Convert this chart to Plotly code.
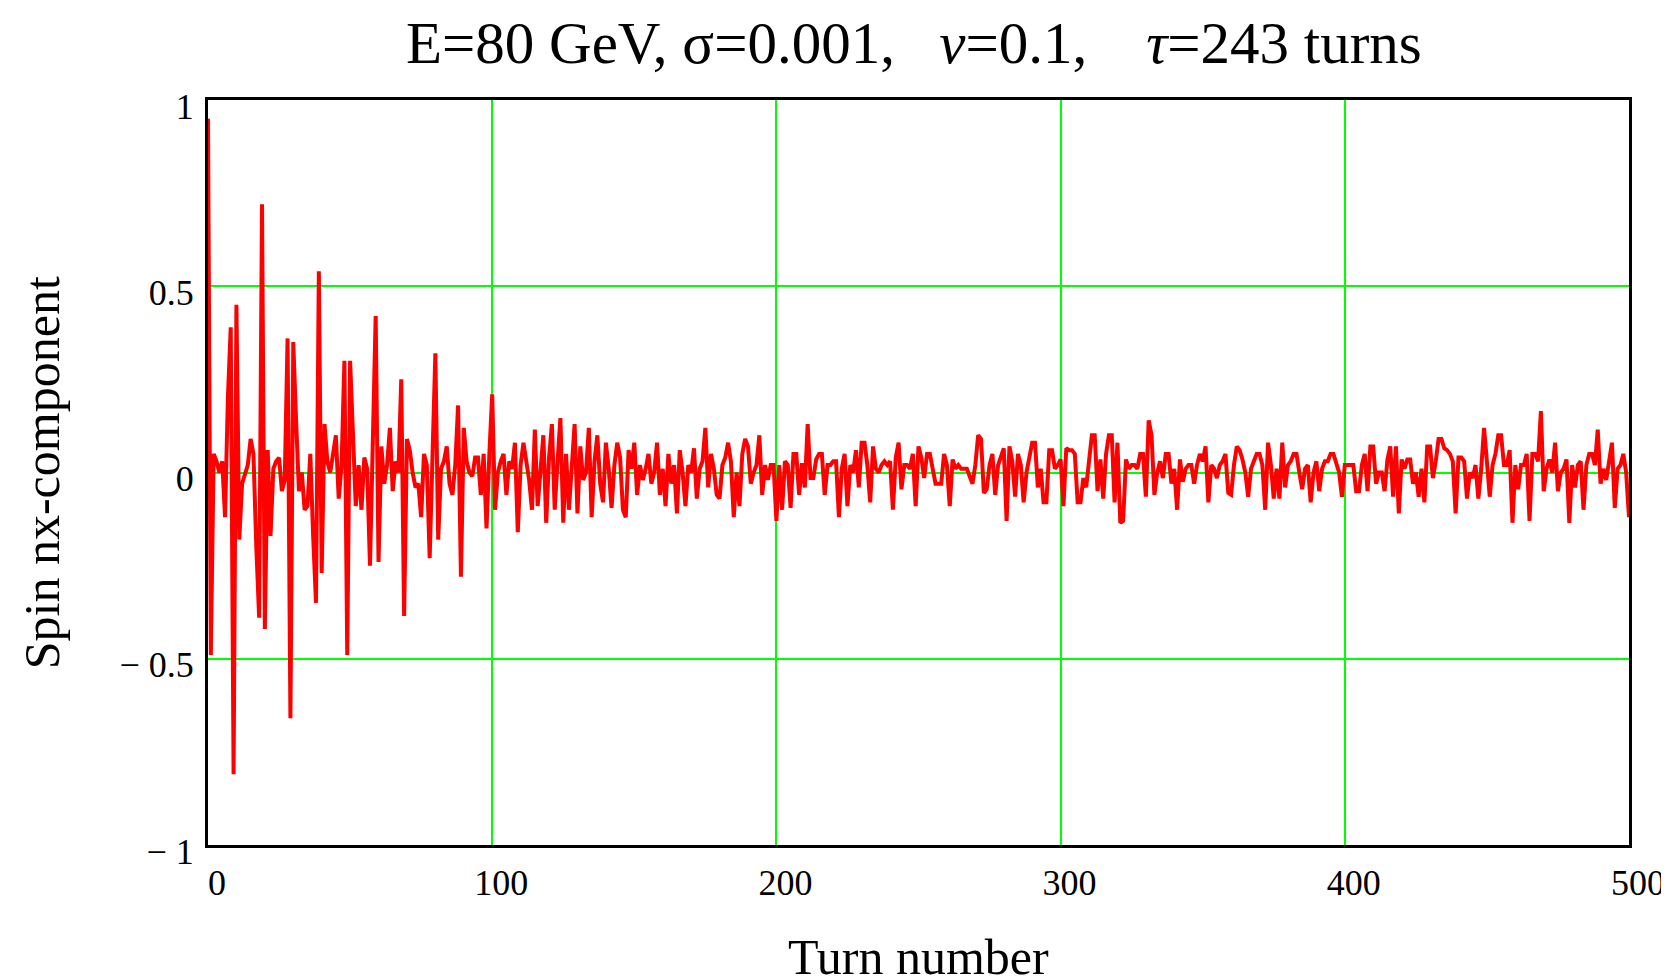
import plotly.graph_objects as go

# Spin nx-component per turn, turns 0..500
nx_000_099 = [
    0.95, -0.49, 0.05, 0.03, 0.00, 0.03, -0.12, 0.20, 0.39, -0.81,
    0.45, -0.18, -0.03, 0.00, 0.02, 0.09, 0.05, -0.20, -0.39, 0.72,
    -0.42, 0.06, -0.17, 0.01, 0.03, 0.04, -0.05, -0.02, 0.36, -0.66,
    0.35, 0.14, -0.05, 0.00, -0.10, -0.09, 0.05, -0.17, -0.35, 0.54,
    -0.27, 0.13, 0.03, 0.00, 0.05, 0.10, -0.07, 0.02, 0.30, -0.49,
    0.30, 0.10, -0.09, 0.02, -0.10, 0.04, 0.01, -0.25, 0.10, 0.42,
    -0.24, 0.07, -0.03, 0.02, 0.12, -0.05, 0.03, 0.00, 0.25, -0.385,
    0.09, 0.06, 0.00, -0.04, -0.03, -0.12, 0.05, 0.02, -0.23, 0.10,
    0.32, -0.18, 0.01, 0.03, 0.07, -0.03, -0.06, 0.02, 0.18, -0.28,
    0.12, 0.03, 0.00, -0.01, 0.04, 0.04, -0.06, 0.05, -0.15, 0.05,
]
nx_100_199 = [
    0.21, -0.10, 0.00, 0.03, 0.05, -0.06, 0.03, 0.01, 0.08, -0.16,
    0.02, 0.08, 0.03, -0.02, -0.10, 0.115, -0.09, 0.02, 0.10, -0.135,
    0.04, 0.13, -0.10, 0.03, 0.146, -0.135, 0.05, -0.10, 0.02, 0.13,
    -0.11, 0.07, -0.02, 0.00, 0.12, -0.12, 0.03, 0.10, -0.03, -0.08,
    0.08, 0.01, -0.095, 0.02, 0.08, 0.04, -0.10, -0.12, 0.06, 0.01,
    0.08, -0.06, 0.02, -0.02, 0.01, 0.05, -0.03, 0.00, 0.08, -0.06,
    0.01, -0.09, 0.05, -0.03, 0.02, -0.11, 0.06, 0.00, -0.09, 0.02,
    0.00, 0.065, -0.07, 0.01, 0.03, 0.12, -0.04, 0.05, 0.01, -0.06,
    -0.07, 0.02, 0.04, 0.08, 0.03, -0.12, 0.00, -0.09, 0.05, 0.09,
    0.07, -0.03, 0.00, 0.02, 0.10, -0.06, 0.02, -0.02, 0.02, 0.02,
]
nx_200_299 = [
    -0.13, 0.02, -0.10, 0.03, 0.02, -0.095, 0.05, 0.05, -0.06, 0.025,
    -0.04, 0.13, -0.015, -0.015, 0.035, 0.05, 0.05, -0.06, 0.02, 0.02,
    0.03, 0.03, -0.12, 0.01, 0.05, -0.09, 0.02, 0.00, 0.06, -0.04,
    0.08, 0.08, 0.02, -0.08, 0.07, 0.01, 0.00, 0.02, 0.03, 0.02,
    0.03, -0.10, 0.04, 0.08, -0.045, 0.02, 0.02, 0.01, 0.05, -0.09,
    0.07, 0.04, -0.015, 0.05, 0.05, 0.01, -0.03, -0.03, -0.03, 0.05,
    0.02, -0.09, 0.035, 0.01, 0.02, 0.01, 0.01, 0.01, -0.01, -0.03,
    0.02, 0.10, 0.09, -0.055, -0.045, 0.02, 0.05, -0.06, 0.02, 0.04,
    0.065, -0.13, 0.07, 0.03, -0.065, 0.05, 0.02, -0.08, 0.00, 0.04,
    0.08, 0.08, -0.04, 0.01, -0.08, -0.08, 0.06, 0.06, 0.01, 0.02,
]
nx_300_399 = [
    0.035, -0.09, 0.065, 0.06, 0.06, 0.05, -0.08, -0.08, -0.015, -0.04,
    0.03, 0.10, 0.10, -0.05, 0.035, -0.07, 0.05, 0.10, 0.10, -0.08,
    0.08, -0.135, -0.13, 0.035, 0.01, 0.02, 0.02, 0.01, 0.05, 0.05,
    -0.065, 0.14, 0.10, -0.06, 0.00, 0.03, -0.015, 0.05, 0.05, -0.03,
    0.01, -0.10, 0.035, -0.025, 0.01, 0.02, 0.02, -0.03, 0.02, 0.05,
    0.03, 0.07, -0.08, 0.02, 0.01, -0.015, 0.02, 0.03, 0.05, -0.055,
    -0.06, 0.02, 0.07, 0.06, 0.035, 0.00, -0.065, 0.01, 0.03, 0.05,
    0.05, 0.02, -0.10, 0.08, 0.02, -0.07, 0.01, -0.07, 0.08, -0.04,
    0.02, 0.03, 0.05, 0.05, 0.00, -0.045, 0.01, 0.02, -0.08, 0.00,
    0.03, -0.05, 0.01, 0.03, 0.03, 0.05, 0.05, 0.02, 0.00, -0.065,
]
nx_400_500 = [
    0.02, 0.02, 0.02, 0.02, -0.05, -0.05, 0.02, 0.05, -0.05, 0.07,
    0.07, -0.03, 0.00, 0.00, -0.05, 0.035, 0.07, -0.065, 0.07, -0.11,
    0.035, 0.01, 0.035, 0.035, -0.03, 0.00, -0.065, 0.01, -0.08, 0.07,
    0.07, -0.015, 0.03, 0.09, 0.09, 0.065, 0.06, 0.05, 0.03, -0.11,
    0.04, 0.04, 0.03, -0.07, 0.00, -0.015, 0.02, -0.07, 0.01, 0.12,
    0.03, -0.065, 0.02, 0.05, 0.10, 0.10, 0.02, 0.02, 0.06, -0.135,
    0.02, -0.045, 0.02, 0.02, 0.05, -0.13, 0.05, 0.05, 0.03, 0.165,
    -0.05, 0.01, 0.035, 0.00, 0.08, -0.05, 0.00, 0.01, 0.035, -0.135,
    0.02, -0.04, 0.02, 0.03, -0.10, 0.02, 0.05, 0.05, 0.02, 0.115,
    -0.03, 0.01, -0.02, 0.04, 0.08, -0.095, 0.01, 0.02, 0.05, 0.00,
    -0.12,
]

nx_values = nx_000_099 + nx_100_199 + nx_200_299 + nx_300_399 + nx_400_500
turns = list(range(len(nx_values)))

x_tick_vals = [0, 100, 200, 300, 400, 500]
x_tick_text = ["0", "100", "200", "300", "400", "500"]
y_tick_vals = [-1, -0.5, 0, 0.5, 1]
y_tick_text = ["\u2212 1", "\u2212 0.5", "0", "0.5", "1"]

title_text = ("E=80 GeV, \u03c3=0.001,\u00a0\u00a0 <i>\u03bd</i>=0.1,"
              "\u00a0\u00a0\u00a0 <i>\u03c4</i>=243 turns")
x_title = "Turn number"
y_title = "Spin nx-component"

SERIF = "Liberation Serif, Times New Roman, serif"
GRID = "#00ff00"

fig = go.Figure()
fig.add_trace(go.Scatter(
    x=turns, y=nx_values, mode="lines",
    line=dict(color="#ff0000", width=4),
    hoverinfo="x+y", showlegend=False,
))

fig.update_layout(
    width=1669, height=980,
    margin=dict(l=200, r=39, t=92, b=143),
    paper_bgcolor="white", plot_bgcolor="white",
    font=dict(family=SERIF, color="black"),
    showlegend=False,
    annotations=[
        dict(text=title_text, xref="paper", yref="paper", x=0.497, y=1.076,
             xanchor="center", yanchor="middle", showarrow=False,
             font=dict(size=59, family=SERIF, color="black")),
        dict(text=x_title, xref="paper", yref="paper", x=0.5, y=-0.151,
             xanchor="center", yanchor="middle", showarrow=False,
             font=dict(size=50, family=SERIF, color="black")),
        dict(text=y_title, xref="paper", yref="paper", x=-0.117, y=0.5,
             xanchor="center", yanchor="middle", showarrow=False, textangle=-90,
             font=dict(size=50, family=SERIF, color="black")),
    ],
)

fig.update_xaxes(
    range=[0, 500], tickmode="array", tickvals=x_tick_vals, ticktext=x_tick_text,
    showgrid=True, gridcolor=GRID, gridwidth=2, zeroline=False,
    showline=True, linecolor="black", linewidth=3, mirror=True,
    ticks="", ticklabelstandoff=4, ticklabelshift=9,
    tickfont=dict(size=36, family=SERIF, color="black"),
)
fig.update_yaxes(
    range=[-1, 1], tickmode="array", tickvals=y_tick_vals, ticktext=y_tick_text,
    showgrid=True, gridcolor=GRID, gridwidth=2, zeroline=False,
    showline=True, linecolor="black", linewidth=3, mirror=True,
    ticks="", ticklabelstandoff=4, ticklabelshift=6,
    tickfont=dict(size=36, family=SERIF, color="black"),
)

fig.write_html("out.html")
